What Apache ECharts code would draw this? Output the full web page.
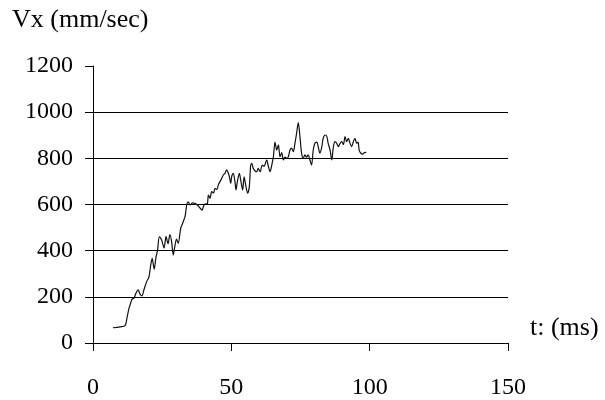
<!DOCTYPE html>
<html>
<head>
<meta charset="utf-8">
<script src="https://cdn.jsdelivr.net/npm/echarts@6/dist/echarts.min.js"></script>
<style>
  html, body { margin: 0; padding: 0; background: #fff; }
  #chart { width: 605px; height: 400px; }
</style>
</head>
<body>
<div id="chart"></div>
<script>
const timeMs = [
  7.2, 9.8, 11.6, 12.3, 13.0, 13.6, 14.1, 14.8, 15.5, 16.3,
  17.0, 17.7, 18.4, 19.4, 20.2, 20.9, 21.4, 22.1, 22.8, 23.3,
  24.0, 24.8, 25.7, 26.4, 27.1, 27.8, 28.4, 29.0, 29.6, 30.2,
  30.8, 31.7, 32.6, 33.3, 33.9, 34.4, 35.1, 36.0, 36.9, 37.8,
  38.7, 39.4, 39.9, 40.5, 41.3, 41.7, 42.3, 42.9, 43.6, 44.1,
  44.8, 45.3, 45.9, 46.5, 47.1, 47.7, 48.3, 48.8, 49.3, 49.8,
  50.1, 50.7, 51.3, 51.7, 52.2, 52.9, 53.4, 54.1, 54.6, 55.3,
  55.9, 56.5, 57.0, 57.4, 57.9, 58.6, 59.2, 59.7, 60.4, 61.2,
  61.8, 62.8, 63.3, 64.0, 64.6, 65.2, 65.8, 66.4, 67.0, 67.6,
  68.2, 68.8, 69.4, 70.0, 70.6, 71.2, 71.8, 72.4, 73.0, 73.6,
  74.2, 74.8, 75.4, 76.0, 76.6, 77.2, 77.8, 78.4, 79.0, 79.6,
  80.2, 80.9, 81.4, 82.0, 82.7, 83.2, 83.9, 84.5, 85.0, 85.7,
  86.3, 86.9, 87.5, 88.1, 88.7, 89.3, 89.9, 90.5, 91.1, 91.7,
  92.3, 92.9, 93.5, 94.1, 94.7, 95.3, 95.8, 96.2, 96.8, 97.5,
  98.1, 98.8
];
const vxMmPerSec = [
  66, 70, 75, 110, 150, 172, 190, 194, 215, 230,
  212, 204, 230, 266, 285, 340, 367, 320, 374, 400,
  460, 446, 412, 462, 430, 470, 440, 381, 420, 450,
  432, 497, 525, 550, 600, 612, 598, 607, 604, 598,
  584, 576, 590, 602, 603, 641, 627, 656, 650, 670,
  665, 685, 699, 713, 728, 735, 750, 740, 720, 692,
  720, 735, 699, 663, 700, 735, 705, 663, 720, 677,
  649, 677, 771, 778, 757, 745, 742, 757, 742, 771,
  765, 793, 770, 742, 770, 807, 870, 836, 858, 807,
  825, 793, 805, 800, 807, 836, 844, 829, 865, 909,
  955, 894, 822, 800, 815, 805, 815, 793, 771, 836,
  865, 870, 851, 822, 850, 887, 901, 895, 865, 835,
  793, 851, 872, 865, 851, 865, 872, 860, 894, 872,
  887, 865, 851, 872, 887, 865, 870, 836, 822, 818,
  825, 826
];
const xTicks = [0, 50, 100, 150];
const yTicks = [0, 200, 400, 600, 800, 1000, 1200];

const chart = echarts.init(document.getElementById("chart"));
const font = "'Liberation Serif', 'Times New Roman', serif";

const options = {
  animation: false,
  grid: { left: 93, right: 97, top: 66, bottom: 57 },
  xAxis: {
    type: "value",
    min: xTicks[0],
    max: xTicks[xTicks.length - 1],
    interval: 50,
    axisLine: { show: true, lineStyle: { color: "#000", width: 1 } },
    axisTick: { show: true, inside: false, length: 8, lineStyle: { color: "#000" } },
    axisLabel: { color: "#000", fontFamily: font, fontSize: 24, margin: 33, formatter: (v) => String(v) },
    splitLine: { show: false },
  },
  yAxis: {
    type: "value",
    min: yTicks[0],
    max: yTicks[yTicks.length - 1],
    interval: 200,
    axisLine: { show: true, lineStyle: { color: "#000", width: 1 } },
    axisTick: { show: true, inside: false, length: 8, lineStyle: { color: "#000" } },
    axisLabel: { color: "#000", fontFamily: font, fontSize: 24, margin: 20, formatter: (v) => String(v) },
    splitLine: {
      show: true,
      showMinLine: false,
      showMaxLine: false,
      lineStyle: { color: "#000", width: 1 },
    },
  },
  graphic: [
    {
      type: "text",
      left: 12,
      top: 7,
      style: { text: "Vx (mm/sec)", fill: "#000", font: "26px " + font },
    },
    {
      type: "text",
      left: 530,
      top: 315,
      style: { text: "t: (ms)", fill: "#000", font: "26px " + font },
    },
  ],
  series: [
    {
      type: "line",
      data: timeMs.map((t, i) => [t, vxMmPerSec[i]]),
      showSymbol: false,
      smooth: 0.3,
      lineStyle: { color: "#111", width: 1.2 },
    },
  ],
};

chart.setOption(options);
</script>
</body>
</html>
